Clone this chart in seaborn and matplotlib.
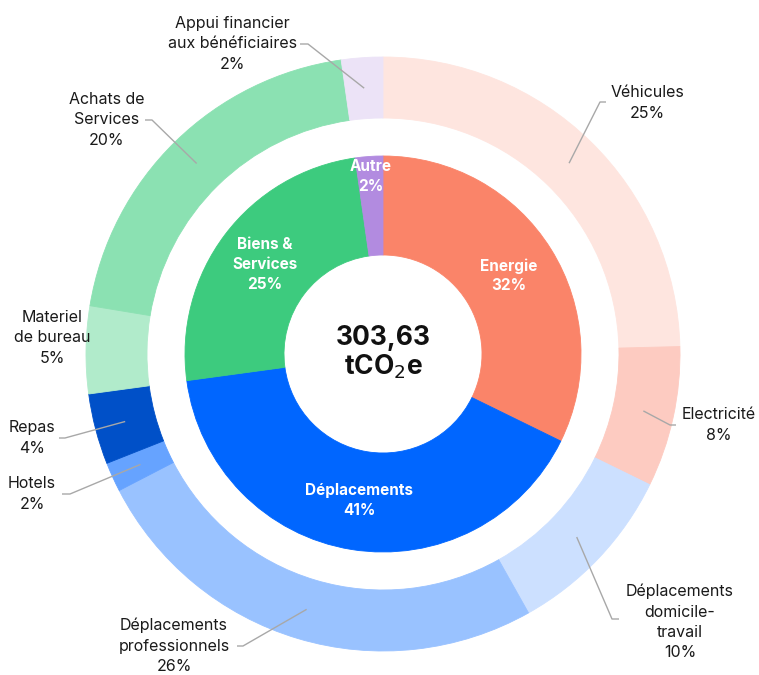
import numpy as np
import matplotlib
matplotlib.use('Agg')
import matplotlib.pyplot as plt
import seaborn as sns

# ==============================
# Données (% du total 303,63 tCO2e)
# ==============================
inner_labels = ['Energie', 'Déplacements', 'Biens &\nServices', 'Autre']
inner_values = [32.25, 40.6, 24.9, 2.25]
inner_pct = ['32%', '41%', '25%', '2%']

outer_labels = ['Véhicules', 'Electricité', 'Déplacements\ndomicile-\ntravail',
                'Déplacements\nprofessionnels', 'Hotels', 'Repas',
                'Materiel\nde bureau', 'Achats de\nServices',
                'Appui financier\naux bénéficiaires']
outer_values = [24.6, 7.65, 9.6, 25.55, 1.6, 3.85, 4.75, 20.15, 2.25]
outer_pct = ['25%', '8%', '10%', '26%', '2%', '4%', '5%', '20%', '2%']

total_text = '303,63\ntCO$_2$e'

# couleurs
inner_colors = ['#FA8469', '#0066FF', '#3DCB7E', '#B28BE0']
outer_colors = ['#FEE5DF', '#FDCBC1', '#CCE0FF', '#99C2FF', '#66A3FF',
                '#0050C8', '#B1EBCB', '#8BE1B2', '#ECE3F7']

# ==============================
# Mise en page (pixels)
# ==============================
W, H = 759, 675
cx, cy = 383, 354
r_out, w_out = 297, 61
r_in, w_in = 198, 99

# (coude, fin du trait, position du texte) pour chaque étiquette extérieure
outer_layout = [
    ((600, 102), (606, 102), (647, 103)),
    ((670, 425), (676, 425), (719, 425)),
    ((612, 619), (619, 619), (680, 622)),
    ((243, 646), (237, 646), (174, 646)),
    ((70, 494), (62, 494), (32, 494)),
    ((65, 438), (59, 438), (32, 438)),
    (None, None, (52, 338)),
    ((152, 120), (145, 120), (107, 120)),
    ((308, 44), (300, 44), (232, 44)),
]
inner_radius_text = [148, 148, 148, 178]

sns.set_theme(style='white')
plt.rcParams['font.family'] = ['Inter', 'DejaVu Sans']

fig = plt.figure(figsize=(W / 100, H / 100), dpi=100)
ax = fig.add_axes([0, 0, 1, 1])

wedges_out, _ = ax.pie(outer_values, colors=outer_colors, radius=r_out, center=(cx, cy),
                       startangle=-90, counterclock=True,
                       wedgeprops=dict(width=w_out, linewidth=0.6))
wedges_in, _ = ax.pie(inner_values, colors=inner_colors, radius=r_in, center=(cx, cy),
                      startangle=-90, counterclock=True,
                      wedgeprops=dict(width=w_in, linewidth=0.6))
for wd in list(wedges_out) + list(wedges_in):
    wd.set_edgecolor(wd.get_facecolor())

ax.set_xlim(0, W)
ax.set_ylim(H, 0)
ax.set_aspect('equal')
ax.axis('off')


def mid_point(wedge, r):
    a = np.deg2rad((wedge.theta1 + wedge.theta2) / 2)
    return cx + r * np.cos(a), cy + r * np.sin(a)


# étiquettes extérieures + traits
r_mid_out = r_out - w_out / 2
for wedge, lab, pct, (elbow, end, tpos) in zip(wedges_out, outer_labels, outer_pct, outer_layout):
    if elbow is not None:
        sx, sy = mid_point(wedge, r_mid_out)
        ax.plot([sx, elbow[0], end[0]], [sy, elbow[1], end[1]],
                color='#A8A8A8', lw=1, solid_capstyle='butt', zorder=3)
    ax.text(tpos[0], tpos[1], f'{lab}\n{pct}', ha='center', va='center',
            multialignment='center', fontsize=11.5, color='#1A1A1A',
            linespacing=1.45, zorder=4)

# étiquettes intérieures
for wedge, lab, pct, rt in zip(wedges_in, inner_labels, inner_pct, inner_radius_text):
    x, y = mid_point(wedge, rt)
    ax.text(x, y, f'{lab}\n{pct}', ha='center', va='center', multialignment='center',
            fontsize=11, fontweight='bold', color='white', linespacing=1.4, zorder=4)

# total au centre
ax.text(cx, cy - 1, total_text, ha='center', va='center', fontsize=19,
        fontweight='bold', color='#111111', linespacing=1.05)

fig.savefig('out.png', dpi=100)
